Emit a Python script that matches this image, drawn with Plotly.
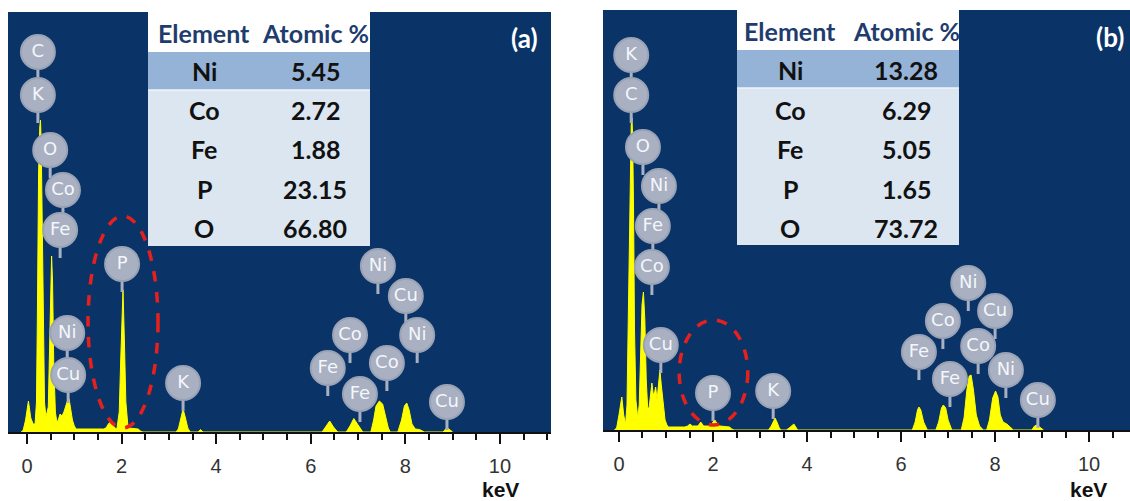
import plotly.graph_objects as go

W, H = 1130, 501

# ---------------- data ----------------
xticks = [0, 2, 4, 6, 8, 10]
xtick_text = ["0", "2", "4", "6", "8", "10"]

# spectrum (a): energy (keV) and counts (a.u.)
keV_a = [-0.12, -0.08, -0.03, 0.03, 0.08, 0.13,
         0.17, 0.20, 0.22, 0.245, 0.27, 0.285, 0.30, 0.32, 0.34, 0.37, 0.40,
         0.45, 0.48, 0.505, 0.52, 0.54, 0.565, 0.60, 0.63,
         0.66, 0.70, 0.74, 0.78, 0.82, 0.86, 0.89, 0.92, 0.96, 1.00, 1.04,
         1.62, 1.67, 1.72, 1.76, 1.80, 1.86,
         1.90, 1.95, 1.98, 2.01, 2.03, 2.06, 2.09, 2.13, 2.15, 2.35, 2.40, 2.45,
         3.15, 3.20, 3.25, 3.30, 3.35, 3.40, 3.45, 3.62, 3.67, 3.72,
         6.24, 6.32, 6.40, 6.48, 6.57,
         6.75, 6.83, 6.91, 6.99, 7.10,
         7.27, 7.33, 7.38, 7.45, 7.52, 7.58, 7.64, 7.68,
         7.84, 7.92, 7.98, 8.03, 8.08, 8.14, 8.21, 8.30, 8.36, 8.40,
         8.80, 8.86, 8.89, 8.95, 9.00]
cnt_a = [0, 2, 12, 31, 14, 8,
         8, 30, 120, 260, 305, 312, 290, 220, 100, 30, 15,
         25, 90, 165, 176, 150, 70, 20, 10,
         12, 18, 16, 20, 26, 32, 33, 24, 12, 6, 3,
         3, 4, 8, 10, 8, 4,
         3, 20, 70, 130, 142, 90, 30, 8, 4, 3, 1, 0,
         0, 3, 12, 23, 14, 4, 0, 0, 2.5, 0,
         0, 5, 11, 5, 0,
         0, 6, 13.5, 8, 0,
         0, 12, 26, 31, 28, 15, 4, 0,
         0, 12, 26, 29, 22, 8, 3, 2.5, 1, 0,
         0, 3.5, 4, 2, 0]

# spectrum (b)
keV_b = [-0.10, -0.05, 0.00, 0.06, 0.10, 0.14,
         0.17, 0.20, 0.235, 0.26, 0.275, 0.29, 0.31, 0.33, 0.36, 0.40,
         0.43, 0.46, 0.49, 0.52, 0.55, 0.58, 0.61,
         0.64, 0.67, 0.70, 0.73, 0.76, 0.78, 0.81, 0.84, 0.87, 0.90, 0.94, 0.98, 1.02, 1.05,
         1.40, 1.46, 1.51, 1.56, 1.68, 1.74, 1.80, 1.94, 2.00, 2.04, 2.09, 2.15, 2.35, 2.40, 2.45,
         3.18, 3.24, 3.29, 3.32, 3.36, 3.41, 3.45,
         3.56, 3.62, 3.68, 3.72, 3.76, 3.80,
         6.24, 6.30, 6.35, 6.38, 6.42, 6.48, 6.56,
         6.74, 6.80, 6.86, 6.90, 6.95, 7.00, 7.08,
         7.28, 7.34, 7.40, 7.45, 7.49, 7.54, 7.60, 7.67, 7.75,
         7.82, 7.88, 7.95, 8.01, 8.06, 8.11, 8.17, 8.25, 8.33, 8.39,
         8.78, 8.84, 8.89, 8.95, 9.03]
cnt_b = [0, 2, 15, 33, 15, 6,
         25, 120, 260, 305, 312, 295, 220, 100, 30, 12,
         25, 80, 125, 138, 110, 50, 22,
         22, 38, 47, 35, 38, 43, 30, 45, 60, 45, 25, 10, 5, 3,
         3, 4, 6, 4, 4, 8, 4, 4, 8, 10, 6, 4, 3, 1, 0,
         0, 4, 10, 12, 8, 2, 0,
         0, 2, 5, 6, 3, 0,
         0, 8, 20, 23, 20, 8, 0,
         0, 8, 22, 25, 22, 10, 0,
         0, 12, 40, 54, 55, 40, 15, 4, 0,
         0, 10, 32, 39, 33, 15, 8, 6, 3, 0,
         0, 4, 5, 3, 0]

# peak labels (a)
lab_a = ["C", "K", "O", "Co", "Fe", "Ni", "Cu", "P", "K",
         "Ni", "Cu", "Co", "Ni", "Fe", "Co", "Fe", "Cu"]
lab_a_keV = [0.23, 0.23, 0.49, 0.76, 0.70, 0.85, 0.87, 2.01, 3.30,
             7.42, 8.01, 6.83, 8.25, 6.36, 7.61, 7.04, 8.88]
lab_a_y = [380, 337, 282, 242, 202, 99, 57, 168, 49,
           166, 136, 97, 97, 64, 69, 38, 30]

# peak labels (b)
lab_b = ["K", "C", "O", "Ni", "Fe", "Co", "Cu", "P", "K",
         "Ni", "Co", "Cu", "Fe", "Co", "Fe", "Ni", "Cu"]
lab_b_keV = [0.26, 0.26, 0.51, 0.85, 0.72, 0.70, 0.89, 2.00, 3.28,
             7.43, 6.89, 8.00, 6.38, 7.64, 7.04, 8.23, 8.91]
lab_b_y = [375, 335, 283, 244, 204, 163, 85, 37, 39,
           147, 109, 119, 78, 84, 51, 60, 30]

# tables
elements = ["Ni", "Co", "Fe", "P", "O"]
atomic_a = ["5.45", "2.72", "1.88", "23.15", "66.80"]
atomic_b = ["13.28", "6.29", "5.05", "1.65", "73.72"]

# ---------------- style ----------------
BG = "#0a3468"
YEL = "#ffff00"
BUB = "#a8b0c1"
STEM = 28

fig = go.Figure()


def add_panel(kx, cy, labs, lx, ly, xa, ya):
    fig.add_trace(go.Scatter(x=kx, y=cy, mode="lines", fill="tozeroy",
                             fillcolor=YEL, line=dict(color=YEL, width=1),
                             xaxis=xa, yaxis=ya, hoverinfo="skip"))
    sx, sy = [], []
    for x, y in zip(lx, ly):
        sx += [x, x, None]
        sy += [y, y - STEM, None]
    fig.add_trace(go.Scatter(x=sx, y=sy, mode="lines",
                             line=dict(color=BUB, width=3),
                             xaxis=xa, yaxis=ya, hoverinfo="skip"))
    fig.add_trace(go.Scatter(x=lx, y=ly, mode="markers+text", text=labs,
                             textposition="middle center",
                             textfont=dict(family="DejaVu Sans", size=18, color="#f4f6fb"),
                             marker=dict(size=34, color=BUB,
                                         line=dict(color="#9aa3b6", width=2)),
                             xaxis=xa, yaxis=ya, hoverinfo="skip"))


add_panel(keV_a, cnt_a, lab_a, lab_a_keV, lab_a_y, "x", "y")
add_panel(keV_b, cnt_b, lab_b, lab_b_keV, lab_b_y, "x2", "y2")


def px(xp, yp):
    return xp / W, 1 - yp / H


shapes = []
annos = []


def add_table(left, right, top, hbot, nbot, bot, first_row, pitch, c1, c2, vals):
    x0, y0 = px(left, top)
    x1, y1 = px(right, hbot)
    shapes.append(dict(type="rect", xref="paper", yref="paper", x0=x0, x1=x1,
                       y0=y1, y1=y0, fillcolor="white", line=dict(width=0), layer="above"))
    _, yn = px(0, nbot)
    shapes.append(dict(type="rect", xref="paper", yref="paper", x0=x0, x1=x1,
                       y0=yn, y1=y1, fillcolor="#95b3d7", line=dict(width=0), layer="above"))
    _, yb = px(0, bot)
    shapes.append(dict(type="rect", xref="paper", yref="paper", x0=x0, x1=x1,
                       y0=yb, y1=yn, fillcolor="#dce6f1", line=dict(width=0), layer="above"))
    shapes.append(dict(type="line", xref="paper", yref="paper", x0=x0, x1=x1,
                       y0=yn, y1=yn, line=dict(color="#eef3f9", width=1.5), layer="above"))
    hy = (top + hbot) / 2 + 1
    for txt, cx in (("Element", c1), ("Atomic %", c2)):
        ax, ay = px(cx, hy)
        annos.append(dict(x=ax, y=ay, xref="paper", yref="paper", text="<b>%s</b>" % txt,
                          showarrow=False, xanchor="center", yanchor="middle",
                          font=dict(family="Lato", size=25, color="#1f3c6e")))
    for i, (el, v) in enumerate(zip(elements, vals)):
        ry = first_row + i * pitch
        for txt, cx in ((el, c1), (v, c2)):
            ax, ay = px(cx, ry)
            annos.append(dict(x=ax, y=ay, xref="paper", yref="paper", text="<b>%s</b>" % txt,
                              showarrow=False, xanchor="center", yanchor="middle",
                              font=dict(family="Lato", size=25, color="#111111")))


add_table(148, 370, 12, 52, 90, 246, 71, 39.2, 204, 315, atomic_a)
add_table(737, 959, 10, 50, 88, 245, 70, 39.5, 790, 906, atomic_b)

# red dashed ellipses around P peak
shapes.append(dict(type="circle", xref="x", yref="y", x0=1.29, x1=2.77, y0=4, y1=216,
                   line=dict(color="#e8201c", width=3.5, dash="dash"), layer="above"))
shapes.append(dict(type="circle", xref="x2", yref="y2", x0=1.28, x1=2.74, y0=5, y1=110,
                   line=dict(color="#e8201c", width=3.5, dash="dash"), layer="above"))

for txt, xp, yp in (("(a)", 524, 38), ("(b)", 1110, 37)):
    ax, ay = px(xp, yp)
    annos.append(dict(x=ax, y=ay, xref="paper", yref="paper", text="<b>%s</b>" % txt,
                      showarrow=False, xanchor="center", yanchor="middle",
                      font=dict(family="Lato", size=26, color="white")))
for xp in (500, 1088):
    ax, ay = px(xp, 489)
    annos.append(dict(x=ax, y=ay, xref="paper", yref="paper", text="<b>keV</b>",
                      showarrow=False, xanchor="center", yanchor="middle",
                      font=dict(family="Liberation Sans", size=21, color="#111111")))

xcommon = dict(showline=True, linecolor="#111111", linewidth=2, ticks="outside",
               ticklen=10, tickwidth=2, tickcolor="#111111", tickvals=xticks,
               ticktext=xtick_text, showgrid=False, zeroline=False,
               tickfont=dict(family="Liberation Sans", size=20, color="#333333"),
               ticklabelstandoff=5,
               minor=dict(dtick=0.5, tick0=0, ticks="outside", ticklen=6, tickwidth=2,
                          tickcolor="#111111", showgrid=False))
ycommon = dict(visible=False, range=[0, 420], showgrid=False, zeroline=False)

fig.update_layout(
    width=W, height=H, autosize=False,
    margin=dict(l=0, r=0, t=0, b=0),
    paper_bgcolor="white", plot_bgcolor=BG,
    showlegend=False,
    xaxis=dict(domain=[8 / W, 551 / W], range=[-0.402, 11.08], anchor="y", **xcommon),
    yaxis=dict(domain=[(H - 432) / H, (H - 12) / H], anchor="x", **ycommon),
    xaxis2=dict(domain=[603 / W, 1.0], range=[-0.34, 10.87], anchor="y2", **xcommon),
    yaxis2=dict(domain=[(H - 430) / H, (H - 10) / H], anchor="x2", **ycommon),
    shapes=shapes, annotations=annos,
)

fig.write_html("out.html", config={"displayModeBar": False},
               post_script="document.body.style.margin='0px';document.body.style.overflow='hidden';")
